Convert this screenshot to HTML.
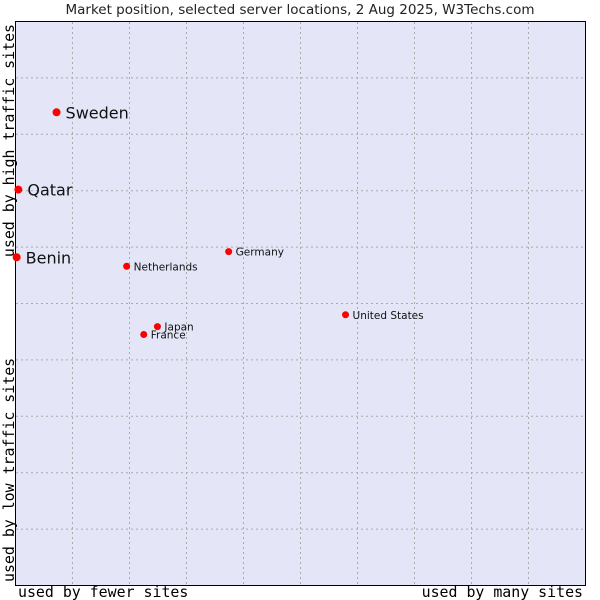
<!DOCTYPE html>
<html><head><meta charset="utf-8"><style>body{margin:0;background:#fff}svg{display:block}</style></head>
<body>
<svg width="600" height="600" xmlns="http://www.w3.org/2000/svg">
<text x="300" y="14" text-anchor="middle" font-family="DejaVu Sans, sans-serif" font-size="13.5" fill="#222">Market position, selected server locations, 2 Aug 2025, W3Techs.com</text>
<rect x="15.5" y="21.5" width="570" height="564" fill="#e4e6f8" stroke="#000"/>
<g id="grid"></g>
<g id="pts"></g>
<text x="18" y="597" font-family="DejaVu Sans Mono, monospace" font-size="14.9" fill="#000">used by fewer sites</text>
<text x="583" y="597" text-anchor="end" font-family="DejaVu Sans Mono, monospace" font-size="14.9" fill="#000">used by many sites</text>
<text transform="translate(14,582) rotate(-90)" font-family="DejaVu Sans Mono, monospace" font-size="14.9" fill="#000">used by low traffic sites</text>
<text transform="translate(14,24) rotate(-90)" text-anchor="end" font-family="DejaVu Sans Mono, monospace" font-size="14.9" fill="#000">used by high traffic sites</text>
</svg>
<script>
const names=["Sweden","Qatar","Benin","Netherlands","Germany","United States","Japan","France"];
const xVals=[7.2,0.5,0.2,19.5,37.4,57.9,24.9,22.5];
const yVals=[83.9,70.2,58.2,56.6,59.2,48.0,45.9,44.5];
const big=[true,true,true,false,false,false,false,false];
const gridTicks=[10,20,30,40,50,60,70,80,90];
const NS="http://www.w3.org/2000/svg";
function sx(v){return 15.5+v*5.7;}
function sy(v){return 585.5-v*5.64;}
const g=document.getElementById('grid');
gridTicks.forEach(t=>{
  const lv=document.createElementNS(NS,'line');
  
  
  lv.setAttribute('x1',sx(t));lv.setAttribute('x2',sx(t));lv.setAttribute('y1',22);lv.setAttribute('y2',585);
  lv.setAttribute('stroke','#aaa');lv.setAttribute('stroke-dasharray','2,3');g.appendChild(lv);
  const lh=document.createElementNS(NS,'line');
  
  
  lh.setAttribute('y1',sy(t));lh.setAttribute('y2',sy(t));lh.setAttribute('x1',16);lh.setAttribute('x2',585);
  lh.setAttribute('stroke','#aaa');lh.setAttribute('stroke-dasharray','2,3');g.appendChild(lh);
});
const p=document.getElementById('pts');
names.forEach((n,i)=>{
  const x=sx(xVals[i]),y=sy(yVals[i]);
  const c=document.createElementNS(NS,'circle');
  
  
  c.setAttribute('cx',x);c.setAttribute('cy',y);c.setAttribute('r',big[i]?4:3.5);c.setAttribute('fill','#f00');
  p.appendChild(c);
  const t=document.createElementNS(NS,'text');
  
  
  t.setAttribute('x',x+(big[i]?9:7));t.setAttribute('y',y+(big[i]?6:4));
  t.setAttribute('font-family','DejaVu Sans, sans-serif');t.setAttribute('font-size',big[i]?16:10.5);
  t.setAttribute('fill','#111');t.textContent=n;p.appendChild(t);
});
</script>
</body></html>
